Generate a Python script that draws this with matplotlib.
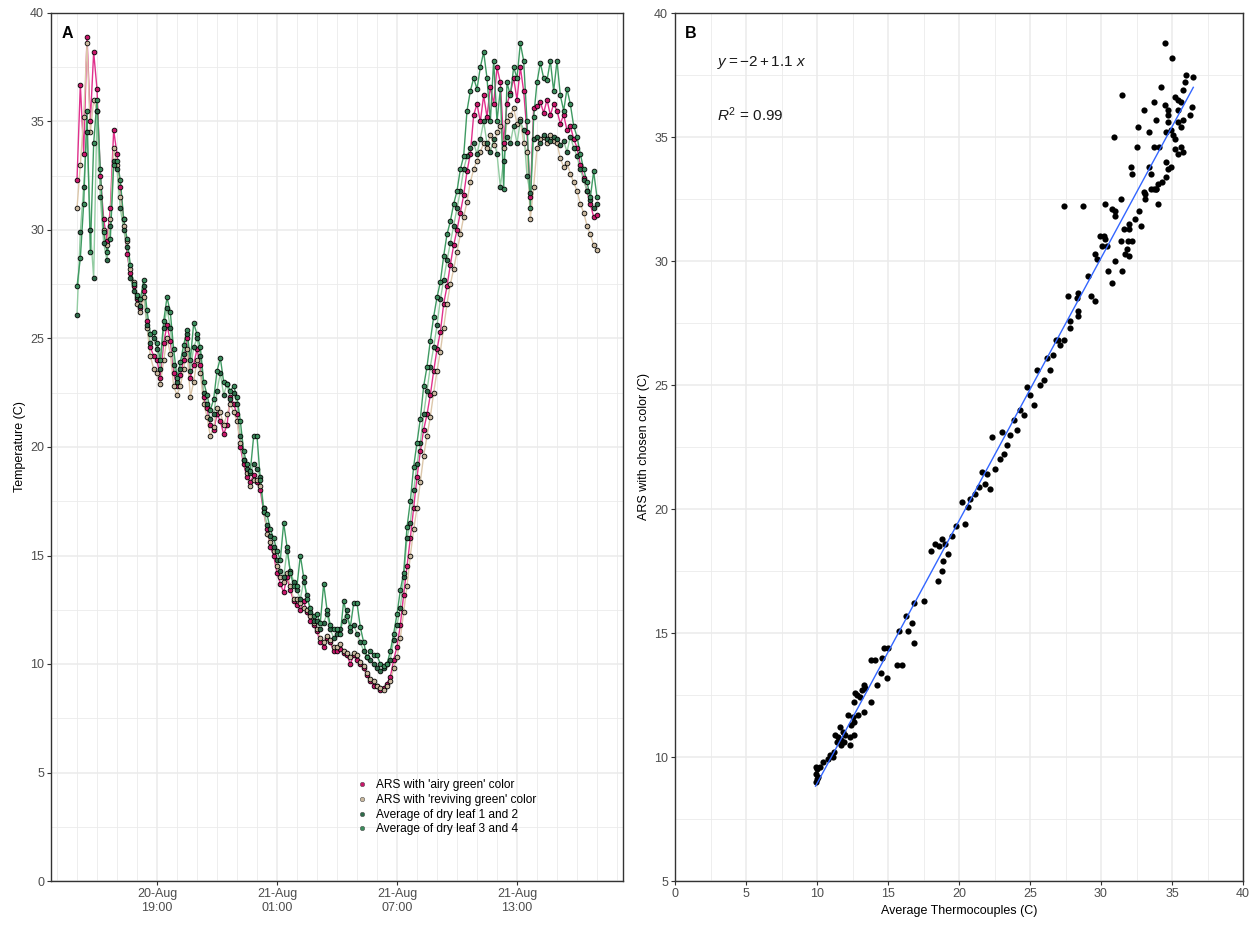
import numpy as np
import pandas as pd
import matplotlib
matplotlib.use("Agg")
import matplotlib.pyplot as plt
import matplotlib.dates as mdates
from matplotlib.lines import Line2D
from matplotlib.ticker import MultipleLocator

plt.rcParams['font.family'] = ['Liberation Sans', 'DejaVu Sans']
plt.rcParams['mathtext.fontset'] = 'custom'
plt.rcParams['mathtext.rm'] = 'Liberation Sans'
plt.rcParams['mathtext.it'] = 'Liberation Sans:italic'

# ---- panel A: temperatures every 10 min, 20-Aug 15:00 -> 21-Aug 17:00 ----
times = pd.date_range("2021-08-20 15:00", "2021-08-21 17:00", freq="10min")

airy_green = [
    32.3, 36.7, 33.5, 38.9, 35.0, 38.2,
    36.5, 32.5, 30.5, 29.5, 31.0, 34.6,
    33.5, 32.0, 30.5, 28.9, 28.0, 27.4,
    26.8, 26.4, 27.2, 25.8, 24.6, 24.2,
    24.0, 23.2, 24.8, 25.6, 24.9, 23.4,
    22.8, 23.3, 24.0, 25.0, 23.2, 23.8,
    24.5, 23.8, 22.3, 21.8, 21.0, 20.8,
    21.5, 21.2, 20.6, 21.0, 22.3, 22.0,
    21.5, 20.0, 19.2, 18.6, 18.4, 18.7,
    18.4, 18.0, 17.0, 16.2, 15.4, 15.0,
    14.2, 13.7, 13.3, 14.0, 13.4, 12.9,
    12.7, 12.5, 12.9, 12.4, 12.0, 11.8,
    11.5, 11.0, 10.8, 11.2, 11.0, 10.6,
    10.6, 10.7, 10.5, 10.4, 10.0, 10.4,
    10.2, 10.0, 9.8, 9.5, 9.2, 9.0,
    9.0, 8.8, 8.9, 9.1, 9.4, 10.2,
    10.8, 11.8, 13.2, 14.5, 15.8, 17.2,
    18.6, 19.8, 20.8, 21.5, 22.4, 23.5,
    24.5, 25.3, 26.6, 27.4, 28.4, 29.3,
    30.0, 30.8, 31.6, 32.7, 33.5, 35.3,
    35.8, 35.0, 36.2, 35.2, 36.6, 35.8,
    37.5, 36.8, 34.0, 35.8, 36.3, 37.0,
    36.0, 37.5, 36.4, 34.5, 31.5, 35.6,
    35.7, 35.9, 35.4, 36.0, 35.3, 35.8,
    35.5, 34.9, 35.3, 34.6, 34.8, 34.2,
    33.8, 33.0, 32.4, 31.8, 31.2, 30.6,
    30.7,
]
reviving_green = [
    31.0, 33.0, 35.2, 38.6, 34.5, 36.0,
    35.5, 32.0, 30.0, 29.3, 30.5, 33.8,
    33.0, 31.5, 30.2, 29.5, 28.2, 27.6,
    26.6, 26.2, 26.9, 25.5, 24.2, 23.6,
    23.4, 22.9, 24.0, 25.0, 24.3, 22.8,
    22.4, 22.8, 23.6, 24.5, 22.3, 23.0,
    24.0, 23.4, 22.0, 21.4, 20.5, 20.9,
    21.8, 21.6, 21.0, 21.5, 22.0, 21.6,
    21.2, 20.2, 19.4, 18.8, 18.2, 18.5,
    18.5, 18.2, 17.2, 16.0, 15.6, 15.2,
    14.5, 14.0, 13.8, 14.2, 13.6, 13.0,
    13.0, 12.8, 12.6, 12.5, 12.2, 11.9,
    11.6, 11.2, 11.0, 11.3, 11.1, 10.8,
    10.8, 10.9, 10.6, 10.5, 10.3, 10.5,
    10.4, 10.1, 9.9, 9.6, 9.3, 9.2,
    9.0, 8.9, 8.8, 9.0, 9.2, 9.8,
    10.3, 11.2, 12.4, 13.6, 15.0, 16.2,
    17.2, 18.4, 19.6, 20.5, 21.4, 22.5,
    23.5, 24.4, 25.5, 26.6, 27.5, 28.2,
    29.0, 29.8, 30.6, 31.3, 32.2, 32.8,
    33.2, 33.6, 34.0, 33.8, 34.4, 33.9,
    34.5, 34.8, 33.8, 35.0, 35.3, 35.6,
    34.9, 35.1, 34.0, 33.6, 30.5, 32.0,
    33.8, 34.2, 34.3, 34.0, 34.4, 34.1,
    34.0, 33.3, 32.9, 33.1, 32.6, 32.2,
    31.8, 31.2, 30.8, 30.2, 29.8, 29.3,
    29.1,
]
dry_leaf_12 = [
    26.1, 29.9, 32.0, 34.5, 30.0, 27.8,
    35.5, 31.5, 29.4, 28.6, 30.2, 33.2,
    32.8, 31.0, 30.0, 29.2, 27.8, 27.2,
    26.9, 26.5, 27.4, 25.6, 24.8, 25.0,
    24.5, 23.6, 25.5, 26.4, 25.5, 23.8,
    23.0, 23.6, 24.3, 25.2, 23.5, 24.6,
    25.0, 24.2, 22.5, 22.0, 21.3, 21.5,
    22.6, 23.4, 22.4, 22.9, 22.2, 22.5,
    22.0, 20.5, 19.4, 19.0, 18.8, 19.2,
    19.0, 18.6, 17.2, 16.4, 15.9, 15.4,
    14.8, 14.3, 14.0, 15.2, 14.3, 13.8,
    13.4, 13.0, 13.8, 13.2, 12.4, 12.0,
    12.0, 11.6, 11.9, 12.3, 11.6, 11.2,
    11.4, 11.6, 12.0, 12.5, 11.5, 11.8,
    11.4, 11.0, 10.6, 10.3, 10.2, 10.0,
    9.8, 9.7, 9.8, 10.0, 10.2, 11.1,
    11.8, 12.6, 14.0, 15.8, 16.5, 18.0,
    19.2, 20.2, 21.5, 22.6, 23.7, 24.6,
    25.6, 26.8, 27.7, 28.6, 29.4, 30.2,
    31.0, 31.8, 32.8, 33.4, 33.8, 34.0,
    33.5, 34.2, 35.0, 34.0, 33.6, 34.2,
    33.5, 32.0, 33.2, 34.3, 34.0, 34.8,
    34.0, 35.0, 34.6, 32.5, 31.7, 34.2,
    34.3, 34.0, 34.4, 34.2, 34.1, 34.3,
    34.2, 33.9, 34.1, 33.6, 34.3, 33.8,
    33.4, 32.8, 32.3, 31.8, 31.4, 31.0,
    31.2,
]
dry_leaf_34 = [
    27.4, 28.7, 31.2, 35.5, 29.0, 34.0,
    36.0, 32.8, 29.9, 29.0, 29.6, 33.0,
    33.2, 32.3, 30.5, 29.6, 28.4, 27.5,
    27.0, 26.8, 27.7, 26.3, 25.2, 25.3,
    24.8, 24.0, 25.8, 26.9, 26.2, 24.5,
    23.2, 23.9, 24.7, 25.4, 24.0, 25.7,
    25.2, 24.6, 23.0, 22.4, 21.7, 22.2,
    23.5, 24.1, 23.0, 22.9, 22.6, 22.8,
    22.3, 21.2, 19.8, 19.2, 18.9, 20.5,
    20.5, 18.5, 17.0, 16.9, 16.2, 15.8,
    15.2, 14.8, 16.5, 15.4, 14.2, 13.6,
    13.6, 15.0, 14.0, 13.0, 12.6, 12.2,
    12.3, 11.9, 13.7, 12.5, 11.8, 11.6,
    11.6, 11.4, 12.9, 12.2, 11.7, 12.8,
    12.8, 11.7, 11.0, 10.3, 10.6, 10.4,
    10.4, 10.0, 9.9, 10.0, 10.6, 11.4,
    12.3, 13.4, 14.2, 16.3, 17.5, 19.1,
    20.2, 21.3, 22.8, 23.7, 24.9, 26.0,
    26.9, 27.6, 28.8, 29.8, 30.4, 31.2,
    31.8, 32.8, 33.4, 35.5, 36.4, 37.0,
    36.5, 37.5, 38.2, 37.0, 35.0, 37.8,
    35.0, 36.5, 31.9, 36.8, 36.2, 37.5,
    37.0, 38.6, 37.8, 35.0, 31.0, 35.2,
    36.8, 37.7, 37.0, 36.9, 37.8, 36.4,
    37.8, 36.2, 35.5, 36.5, 35.8, 34.8,
    34.3, 33.5, 32.8, 32.2, 31.5, 32.7,
    31.5,
]

series_names = ["ARS with 'airy green' color", "ARS with 'reviving green' color",
                "Average of dry leaf 1 and 2", "Average of dry leaf 3 and 4"]
line_colors = ["#E0308C", "#DCC7AA", "#93CCA2", "#3F9A62"]
fill_colors = ["#C8176A", "#C9B89E", "#2F6B4A", "#3B8C5C"]

# ---- panel B: ARS vs thermocouple average ----
thermo_avg = [
    34.5, 35.0, 36.0, 36.5, 35.9, 34.2, 31.5, 35.8, 35.2, 35.4, 35.6, 33.7,
    34.5, 34.7, 33.0, 36.4, 36.3, 34.7, 35.4, 35.8, 33.9, 35.4, 35.6, 32.6,
    34.7, 34.6, 34.9, 35.1, 33.4, 30.9, 35.2, 35.2, 35.6, 35.8, 32.5, 33.7,
    34.1, 35.4, 34.6, 34.9, 34.7, 32.1, 33.4, 32.2, 33.5, 34.6, 34.3, 34.0,
    33.9, 33.0, 33.1, 33.5, 33.7, 33.9, 33.1, 34.0, 27.4, 28.7, 30.3, 31.4,
    30.8, 31.0, 31.0, 32.7, 32.4, 32.0, 32.8, 31.6, 32.0, 29.9, 30.2, 30.3,
    30.1, 30.4, 31.4, 31.9, 32.2, 31.8, 31.7, 32.0, 29.6, 29.7, 31.0, 30.5,
    31.5, 30.8, 29.1, 27.7, 28.4, 28.3, 29.3, 29.6, 28.4, 28.4, 27.8, 27.8,
    27.0, 27.4,
    18.0, 18.3, 18.6, 18.8, 19.0, 18.8, 18.5, 18.9, 19.5, 19.8, 20.4, 20.2,
    20.8, 21.1, 21.4, 21.8, 22.2, 22.0, 22.5, 22.9, 22.3, 23.2, 23.6, 23.4,
    23.9, 24.3, 24.1, 24.6, 25.0, 25.3, 25.7, 25.5, 26.0, 26.4, 26.2, 26.8,
    27.1, 26.6, 24.8, 23.0, 21.6, 20.6, 19.2,
    17.5, 16.8, 16.3, 16.7, 15.8, 16.4, 16.8, 14.7, 15.0, 13.8, 14.1, 14.6,
    15.6, 16.0, 14.9, 14.5, 14.2, 13.4, 13.2, 13.3, 12.8, 13.0, 12.7, 13.8,
    12.6, 13.3, 12.2, 12.5, 12.9, 12.4, 12.6, 11.6, 11.8, 11.5, 11.3, 11.7,
    12.0, 12.3, 11.9, 12.6, 12.3, 11.4, 11.7, 11.1, 10.9, 11.2, 10.8, 10.4,
    10.2, 10.0, 9.9, 9.9, 10.0, 9.9, 10.1,
]
ars_chosen = [
    38.8, 38.2, 37.5, 37.4, 37.2, 37.0, 36.7, 36.9, 36.6, 36.5, 36.4, 36.4,
    36.3, 36.1, 36.1, 36.2, 35.9, 35.9, 36.1, 35.7, 35.7, 35.6, 35.4, 35.4,
    35.6, 35.2, 35.3, 35.1, 35.2, 35.0, 34.9, 34.5, 34.6, 34.4, 34.6, 34.6,
    34.6, 34.3, 34.0, 33.8, 33.7, 33.8, 33.8, 33.5, 33.5, 33.4, 33.2, 33.1,
    32.9, 32.8, 32.7, 32.9, 32.9, 32.9, 32.5, 32.3, 32.2, 32.2, 32.3, 32.5,
    32.1, 32.0, 31.8, 32.0, 31.7, 31.5, 31.4, 31.3, 31.3, 31.0, 31.0, 30.9,
    30.6, 30.6, 30.8, 30.8, 30.8, 30.5, 30.3, 30.2, 30.3, 30.1, 30.0, 29.6,
    29.6, 29.1, 29.4, 28.6, 28.7, 28.5, 28.6, 28.4, 28.0, 27.8, 27.6, 27.3,
    26.8, 26.8,
    18.3, 18.6, 18.5, 18.8, 18.6, 17.5, 17.1, 17.9, 18.9, 19.3, 19.4, 20.3,
    20.4, 20.6, 20.9, 21.0, 20.8, 21.4, 21.6, 22.0, 22.9, 22.2, 23.0, 22.6,
    23.6, 24.0, 23.2, 23.8, 24.6, 24.2, 25.0, 25.6, 25.2, 25.6, 26.1, 26.8,
    26.6, 26.2, 24.9, 23.1, 21.5, 20.1, 18.2,
    16.3, 16.2, 15.7, 15.4, 15.1, 15.1, 14.6, 14.4, 14.4, 13.9, 13.9, 14.0,
    13.7, 13.7, 13.2, 13.4, 12.9, 12.8, 12.7, 12.9, 12.5, 12.4, 12.6, 12.2,
    12.2, 11.8, 11.7, 11.6, 11.7, 11.3, 11.4, 11.2, 11.0, 10.8, 10.9, 10.7,
    10.9, 10.8, 10.6, 10.9, 10.5, 10.6, 10.5, 10.0, 10.1, 10.2, 9.9, 9.8,
    9.6, 9.5, 9.6, 9.3, 9.1, 9.0, 9.2,
]

grid_c = "#EBEBEB"
border_c = "#333333"
tick_c = "#4D4D4D"

fig = plt.figure(figsize=(12.55, 9.35), dpi=100)
axA = fig.add_axes([51 / 1255, 54 / 935, 572 / 1255, 868 / 935])
axB = fig.add_axes([675 / 1255, 54 / 935, 568 / 1255, 868 / 935])


def style(ax):
    ax.set_facecolor("white")
    ax.grid(True, which="major", color=grid_c, linewidth=1.1, zorder=0)
    ax.grid(True, which="minor", color=grid_c, linewidth=0.6, zorder=0)
    ax.set_axisbelow(True)
    for s in ax.spines.values():
        s.set_color(border_c)
        s.set_linewidth(1.0)
    ax.tick_params(which="major", length=2.75, width=0.8, color=border_c,
                   labelcolor=tick_c, labelsize=9, pad=2.2)
    ax.tick_params(which="minor", length=0)


# panel A
for vals, name, lc, fc in zip([airy_green, reviving_green, dry_leaf_12, dry_leaf_34],
                              series_names, line_colors, fill_colors):
    axA.plot(times, vals, color=lc, linewidth=1.0, zorder=2)
    axA.plot(times, vals, linestyle="none", marker="o", markersize=3.4,
             markerfacecolor=fc, markeredgecolor="black", markeredgewidth=0.6,
             zorder=3)

pad = pd.Timedelta(minutes=78)
axA.set_xlim(times[0] - pad, times[-1] + pad)
axA.set_ylim(0, 40)
axA.yaxis.set_major_locator(MultipleLocator(5))
axA.yaxis.set_minor_locator(MultipleLocator(2.5))
axA.xaxis.set_major_locator(mdates.HourLocator(byhour=[1, 7, 13, 19]))
axA.xaxis.set_minor_locator(mdates.HourLocator())
axA.xaxis.set_major_formatter(mdates.DateFormatter("%d-%b\n%H:%M"))
style(axA)
axA.set_ylabel("Temperature (C)", fontsize=9, labelpad=3)
axA.text(0.018, 0.985, "A", transform=axA.transAxes, fontsize=11.5,
         fontweight="bold", va="top", ha="left")

handles = [Line2D([], [], linestyle="none", marker="o", markersize=3.2,
                  markerfacecolor=fc, markeredgecolor="#555555",
                  markeredgewidth=0.4) for fc in fill_colors]
axA.legend(handles, series_names, loc="lower left",
           bbox_to_anchor=(0.521, 0.043), frameon=False, fontsize=8.6,
           handlelength=0.8, handletextpad=0.8, labelspacing=0.22,
           borderpad=0.2)

# panel B
tx = np.array(thermo_avg)
ay = np.array(ars_chosen)
slope, intercept = np.polyfit(tx, ay, 1)
xfit = np.linspace(tx.min(), tx.max(), 50)
axB.scatter(tx, ay, s=20, color="black", linewidths=0, zorder=3)
axB.plot(xfit, intercept + slope * xfit, color="#3366FF", linewidth=1.0,
         zorder=4)
axB.set_xlim(0, 40)
axB.set_ylim(5, 40)
axB.xaxis.set_major_locator(MultipleLocator(5))
axB.xaxis.set_minor_locator(MultipleLocator(2.5))
axB.yaxis.set_major_locator(MultipleLocator(5))
axB.yaxis.set_minor_locator(MultipleLocator(2.5))
style(axB)
axB.set_xlabel("Average Thermocouples (C)", fontsize=9, labelpad=4)
axB.set_ylabel("ARS with chosen color (C)", fontsize=9, labelpad=3)
axB.text(0.018, 0.985, "B", transform=axB.transAxes, fontsize=11.5,
         fontweight="bold", va="top", ha="left")
axB.text(2.95, 38.0, r"$y = -2 + 1.1\ x$", fontsize=11, va="center",
         ha="left", color="#1A1A1A")
axB.text(2.95, 35.9, r"$R^2$ = 0.99", fontsize=11, va="center",
         ha="left", color="#1A1A1A")

fig.savefig("out.png", dpi=100, facecolor="white")
